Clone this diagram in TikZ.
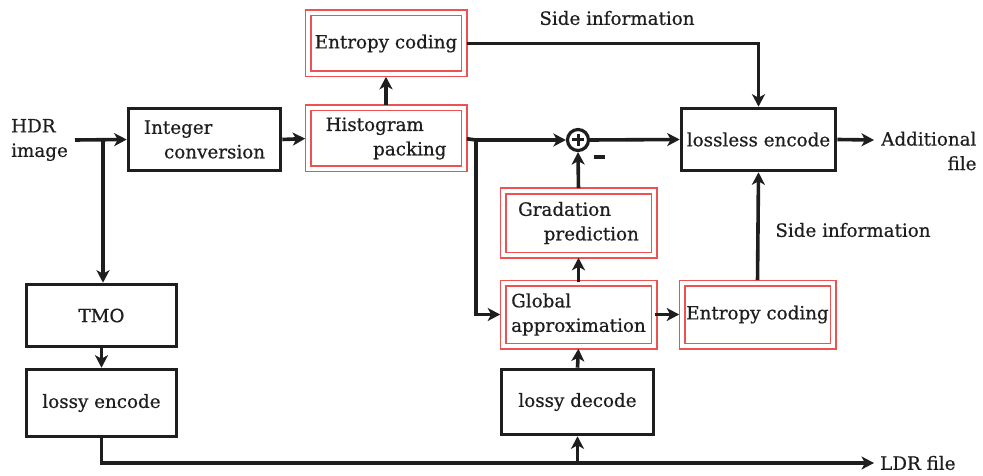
\documentclass[tikz,border=0pt]{standalone}
\usepackage{fontspec}
\setmainfont{DejaVu Serif}[FakeBold=0.6]
\usetikzlibrary{arrows.meta}
\definecolor{boxred}{RGB}{236,82,82}
\definecolor{ink}{RGB}{30,30,30}
\tikzset{
  txt/.style={font=\fontsize{18.3}{24.5}\selectfont, text=ink, inner sep=0pt},
  blk/.style={txt, draw=ink, line width=3.6pt, rectangle},
  rblk/.style={txt, draw=boxred, line width=1.6pt, double=white, double distance=3.8pt, rectangle},
  arr/.style={draw=ink, line width=3.6pt, -{Stealth[length=12.5pt,width=13pt,inset=3.5pt]}},
  ln/.style={draw=ink, line width=3.6pt},
}
\begin{document}
\begin{tikzpicture}[x=1pt,y=-1pt]
\useasboundingbox (0,0) rectangle (983,476);
% black boxes
\node[blk, minimum width=152pt, minimum height=62pt, align=left] (intc) at (204.5,139.5) {Integer\\\hspace{1.1em}conversion};
\node[blk, minimum width=150pt, minimum height=62pt] (tmo) at (101.5,315.5) {TMO};
\node[blk, minimum width=150pt, minimum height=67pt] (lenc) at (101.5,403) {lossy encode};
\node[blk, minimum width=152pt, minimum height=65pt] (ldec) at (577.5,402) {lossy decode};
\node[blk, minimum width=154pt, minimum height=62pt] (lless) at (758.5,139.5) {lossless encode};
% red double boxes
\node[rblk, minimum width=156pt, minimum height=61pt] (ent1) at (386,43.5) {Entropy coding};
\node[rblk, minimum width=156pt, minimum height=61pt, align=left] (hist) at (386,138.5) {Histogram\\\hspace{2.6em}packing};
\node[rblk, minimum width=151pt, minimum height=64pt, align=left] (grad) at (578.5,223) {Gradation\\\hspace{1.4em}prediction};
\node[rblk, minimum width=151pt, minimum height=63pt, align=left] (glob) at (578.5,314.5) {Global\\approximation};
\node[rblk, minimum width=151pt, minimum height=63pt] (ent2) at (757.5,314.5) {Entropy coding};
% plus junction
\node[draw=ink, line width=3.2pt, circle, minimum size=21pt, inner sep=0pt] (plus) at (578,140) {};
\draw[ln, line width=3pt] (plus.center) ++(-6,0) -- ++(12,0);
\draw[ln, line width=3pt] (plus.center) ++(0,-6) -- ++(0,12);
\node[inner sep=0pt] (minus) at (599,157) {\textcolor{ink}{\rule{11pt}{3.4pt}}};
% labels
\node[txt, align=left, anchor=west] (hdr) at (11,140) {HDR\\image};
\node[txt, anchor=west] (ldr) at (880,463) {LDR file};
\node[txt, align=right, anchor=west] (add) at (881,151) {Additional\\file};
\node[txt] (side1) at (617,18) {Side information};
\node[txt] (side2) at (853,230) {Side information};
\coordinate (hdrout) at (75,140);
\coordinate (j1) at (103,140);
\coordinate (j2) at (476,140);
\coordinate (ldrend) at (874,463);
\coordinate (addend) at (874,140);
% connectors
\draw[arr] (hdrout) -- (intc.west);
\draw[arr] (j1) -- (j1 |- tmo.north);
\draw[arr] (tmo.south) -- (lenc.north);
\draw[arr] (lenc.south) |- (ldrend);
\draw[arr] (ldec.south |- ldrend) -- (ldec.south);
\draw[arr, shorten >=2pt] (ldec.north) -- (glob.south);
\draw[arr, shorten >=2pt] (glob.north) -- (grad.south);
\draw[arr, shorten <=2pt] (grad.north) -- (plus.south);
\draw[arr, shorten >=2pt] (glob.east) -- (ent2.west);
\draw[arr, shorten >=2pt] (intc.east) -- (hist.west);
\draw[arr, shorten >=2pt, shorten <=2pt] (hist.north) -- (ent1.south);
\draw[ln, shorten <=2pt] (hist.east) -- (j2);
\draw[arr] (j2) -- (plus.west);
\draw[arr, shorten >=2pt] (j2) |- (glob.west);
\draw[arr, shorten <=2pt] (ent1.east) -| (lless.north);
\draw[arr] (plus.east) -- (lless.west);
\draw[arr, shorten <=2pt] (ent2.north) -- (lless.south);
\draw[arr] (lless.east) -- (addend);
\end{tikzpicture}
\end{document}
